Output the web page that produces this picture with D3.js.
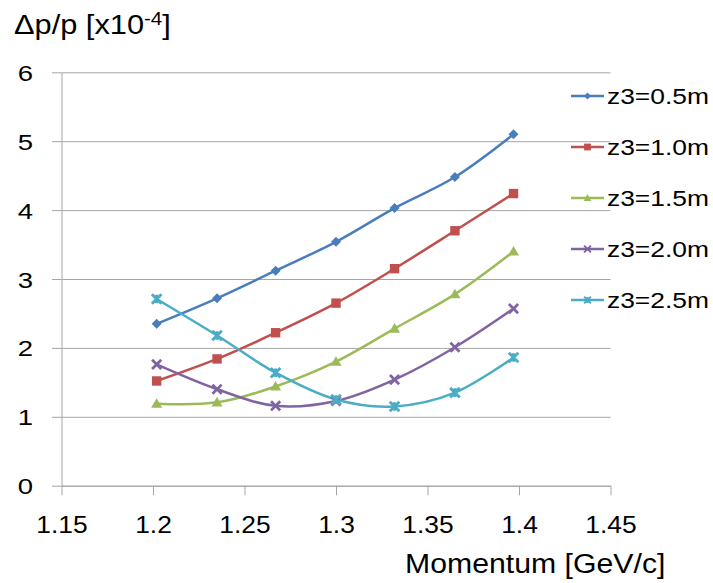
<!DOCTYPE html>
<html><head><meta charset="utf-8">
<script src="https://cdn.jsdelivr.net/npm/d3@7"></script>
<style>
body{margin:0;background:#fff;}
svg{display:block;font-family:"Liberation Sans",Arial,sans-serif;}
</style></head>
<body><svg id="c" width="713" height="583"></svg>
<script>
const momentum = [1.202, 1.235, 1.267, 1.300, 1.332, 1.365, 1.397];
const seriesNames = ["z3=0.5m","z3=1.0m","z3=1.5m","z3=2.0m","z3=2.5m"];
const z05 = [2.35, 2.72, 3.12, 3.54, 4.03, 4.48, 5.10];
const z10 = [1.52, 1.84, 2.22, 2.65, 3.15, 3.70, 4.24];
const z15 = [1.19, 1.21, 1.44, 1.80, 2.28, 2.78, 3.40];
const z20 = [1.76, 1.40, 1.16, 1.23, 1.54, 2.01, 2.57];
const z25 = [2.71, 2.18, 1.64, 1.25, 1.15, 1.35, 1.86];
const xTicks = [1.15, 1.2, 1.25, 1.3, 1.35, 1.4, 1.45];
const yTicks = [0, 1, 2, 3, 4, 5, 6];

const colors = ["#4A7EBB","#C0504D","#9BBB59","#8064A2","#4BACC6"];
const markers = ["diamond","square","triangle","x","star"];
const allSeries = [z05,z10,z15,z20,z25];

const svg = d3.select("#c");
const L = 61.5, R = 610.5, T = 72.3, B = 485.7;
const x = d3.scaleLinear().domain([1.15,1.45]).range([L,R]);
const y = d3.scaleLinear().domain([0,6]).range([B,T]);
const gridCol = "#a6a6a6";

// grid
const gGrid = svg.append("g").attr("transform",`translate(${L},0)`)
  .call(d3.axisLeft(y).tickValues(yTicks).tickSize(-(R-L)).tickFormat(""));
gGrid.select(".domain").remove();
gGrid.selectAll("line").attr("stroke",gridCol).attr("stroke-width",1);

// y axis
const gy = svg.append("g").attr("transform",`translate(${L},0)`)
  .call(d3.axisLeft(y).tickValues(yTicks).tickSize(9.5).tickSizeOuter(0).tickFormat(d3.format("d")));
gy.select(".domain").attr("stroke",gridCol);
gy.selectAll("line").attr("stroke",gridCol);
gy.selectAll("text").attr("x",null).attr("dy",null)
  .attr("transform","translate(-28.5,8) scale(1.25,1)")
  .attr("font-size",22).attr("fill","#000").attr("font-family","Liberation Sans, Arial, sans-serif");

// x axis
const gx = svg.append("g").attr("transform",`translate(0,${B})`)
  .call(d3.axisBottom(x).tickValues(xTicks).tickSize(9.5).tickSizeOuter(0).tickFormat(d=>String(+d.toFixed(2))));
gx.select(".domain").attr("stroke",gridCol);
gx.selectAll("line").attr("stroke",gridCol);
gx.selectAll("text").attr("y",null).attr("dy",null)
  .attr("transform","translate(0,47.3) scale(1.1,1)")
  .attr("font-size",24).attr("fill","#000").attr("font-family","Liberation Sans, Arial, sans-serif");

// marker drawer
function drawMarker(g, type, color, s){
  if(type==="diamond"){
    g.append("path").attr("d",`M0,${-s}L${s},0L0,${s}L${-s},0Z`).attr("fill",color);
  } else if(type==="square"){
    g.append("rect").attr("x",-s).attr("y",-s).attr("width",2*s).attr("height",2*s).attr("fill",color);
  } else if(type==="triangle"){
    g.append("path").attr("d",`M0,${-s*1.15}L${s*1.15},${s*0.85}L${-s*1.15},${s*0.85}Z`).attr("fill",color);
  } else if(type==="x"){
    g.append("path").attr("d",`M${-s},${-s}L${s},${s}M${s},${-s}L${-s},${s}`)
      .attr("stroke",color).attr("stroke-width",s*0.6).attr("fill","none");
  } else if(type==="star"){
    g.append("path").attr("d",`M${-s},${-s}L${s},${s}M${s},${-s}L${-s},${s}M0,${-s*0.9}L0,${s*0.9}`)
      .attr("stroke",color).attr("stroke-width",s*0.6).attr("fill","none");
  }
}

const line = d3.line().x((d,i)=>x(momentum[i])).y(d=>y(d)).curve(d3.curveCardinal.tension(0));
const sizes = [5,4.7,4.8,4.6,4.8];

allSeries.forEach((vals,si)=>{
  svg.append("path").datum(vals).attr("d",line)
    .attr("fill","none").attr("stroke",colors[si]).attr("stroke-width",2.5);
});
allSeries.forEach((vals,si)=>{
  vals.forEach((v,i)=>{
    const g = svg.append("g").attr("transform",`translate(${x(momentum[i])},${y(v)})`);
    drawMarker(g, markers[si], colors[si], sizes[si]);
  });
});

// legend
const legY = d3.scaleLinear().domain([0,4]).range([96,300]);
seriesNames.forEach((name,si)=>{
  const yy = legY(si);
  svg.append("line").attr("x1",571).attr("x2",604).attr("y1",yy).attr("y2",yy)
    .attr("stroke",colors[si]).attr("stroke-width",2.5);
  const g = svg.append("g").attr("transform",`translate(587.5,${yy})`);
  drawMarker(g, markers[si], colors[si], 3.4);
  svg.append("text").attr("transform",`translate(607,${yy+8}) scale(1.2,1)`)
    .attr("font-size",22).attr("fill","#000").text(name);
});

// title
const t = svg.append("text").attr("transform","translate(14,34) scale(1.14,1)").attr("font-size",27).attr("fill","#000");
t.append("tspan").text("Δp/p [x10");
t.append("tspan").attr("font-size",18).attr("dy",-9).text("-4");
t.append("tspan").attr("dy",9).text("]");

// x axis title
svg.append("text").attr("transform","translate(405,573) scale(1.12,1)").attr("font-size",27).attr("fill","#000").text("Momentum [GeV/c]");
</script></body></html>
